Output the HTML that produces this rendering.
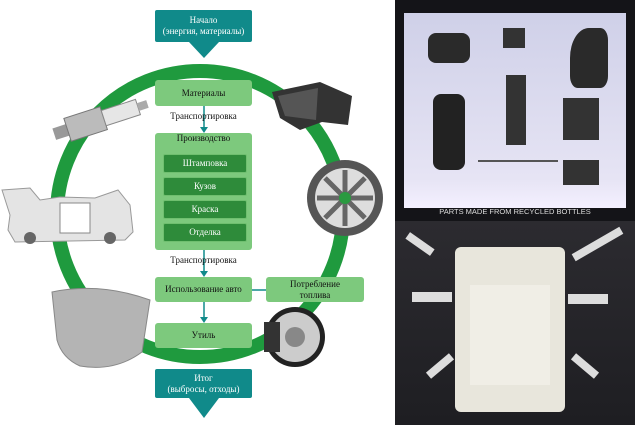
<!DOCTYPE html>
<html><head><meta charset="utf-8"><style>
body{margin:0;width:635px;height:425px;overflow:hidden;background:#fff;font-family:"Liberation Serif",serif;position:relative}
.a{position:absolute}
.b{position:absolute;background:#7dc97d;border-radius:3px;color:#111;font-size:9px;text-align:center;display:flex;align-items:center;justify-content:center;line-height:11px}
.d{position:absolute;background:#2e8b3a;border:1px solid #6fbf6f;border-radius:2px;color:#fff;font-size:9px;text-align:center;line-height:17px}
.t{position:absolute;background:#108a8a;color:#fff;font-size:9px;text-align:center;line-height:11px;border-radius:2px}
.l{position:absolute;font-size:9px;color:#111;text-align:center}
</style></head><body>
<svg class="a" style="left:0;top:0" width="395" height="425">
<circle cx="200" cy="214" r="143" fill="none" stroke="#1f9a3e" stroke-width="14"/>
<polygon points="189,42 219,42 204,58" fill="#108a8a"/>
<polygon points="189,398 219,398 204,418" fill="#108a8a"/>
<line x1="204" y1="106" x2="204" y2="130" stroke="#108a8a" stroke-width="1.5"/>
<polygon points="200,127 208,127 204,133" fill="#108a8a"/>
<line x1="204" y1="250" x2="204" y2="274" stroke="#108a8a" stroke-width="1.5"/>
<polygon points="200,271 208,271 204,277" fill="#108a8a"/>
<line x1="204" y1="302" x2="204" y2="320" stroke="#108a8a" stroke-width="1.5"/>
<polygon points="200,317 208,317 204,323" fill="#108a8a"/>
<line x1="252" y1="290" x2="266" y2="290" stroke="#108a8a" stroke-width="1.5"/>
<!-- spark plug -->
<g transform="rotate(-18 98 120)">
<rect x="52" y="114" width="14" height="12" fill="#999"/>
<rect x="66" y="108" width="38" height="24" fill="#bbb" stroke="#777"/>
<rect x="104" y="112" width="36" height="16" fill="#e6e6e6" stroke="#888"/>
<rect x="140" y="116" width="10" height="8" fill="#aaa"/>
</g>
<!-- car body -->
<path d="M2,190 L30,188 L40,200 L60,197 L95,198 L118,190 L130,205 L133,232 L125,240 L15,242 L8,230 L10,215Z" fill="#e4e4e4" stroke="#999"/>
<rect x="60" y="203" width="30" height="30" fill="#fff" stroke="#888"/>
<circle cx="30" cy="238" r="6" fill="#666"/><circle cx="110" cy="238" r="6" fill="#666"/>
<!-- hood -->
<path d="M52,292 Q100,282 150,300 L142,352 Q115,372 80,366 Q62,358 57,340Z" fill="#b4b4b4" stroke="#888"/>
<!-- mirror -->
<path d="M272,92 L320,82 L352,96 L348,125 L322,122 L300,130 L280,118Z" fill="#333"/>
<path d="M278,96 L318,88 L316,120 L285,116Z" fill="#555"/>
<!-- wheel -->
<circle cx="345" cy="198" r="38" fill="#555"/><circle cx="345" cy="198" r="30" fill="#ddd"/>
<g stroke="#666" stroke-width="5"><line x1="345" y1="170" x2="345" y2="226"/><line x1="317" y1="198" x2="373" y2="198"/><line x1="325" y1="178" x2="365" y2="218"/><line x1="365" y1="178" x2="325" y2="218"/></g>
<circle cx="345" cy="198" r="6" fill="#2a9a40"/>
<!-- brake -->
<circle cx="295" cy="337" r="30" fill="#222"/><circle cx="295" cy="337" r="25" fill="#ccc"/><circle cx="295" cy="337" r="10" fill="#888"/>
<rect x="264" y="322" width="16" height="30" fill="#333"/>
</svg>
<div class="t" style="left:155px;top:10px;width:97px;height:32px;padding-top:5px;box-sizing:border-box">Начало<br>(энергия, материалы)</div>
<div class="b" style="left:155px;top:80px;width:97px;height:26px">Материалы</div>
<div class="l" style="left:150px;top:111px;width:107px">Транспортировка</div>
<div class="b" style="left:155px;top:133px;width:97px;height:117px;align-items:flex-start">Производство</div>
<div class="d" style="left:163px;top:154px;width:82px;height:17px">Штамповка</div>
<div class="d" style="left:163px;top:177px;width:82px;height:17px">Кузов</div>
<div class="d" style="left:163px;top:200px;width:82px;height:17px">Краска</div>
<div class="d" style="left:163px;top:223px;width:82px;height:17px">Отделка</div>
<div class="l" style="left:150px;top:255px;width:107px">Транспортировка</div>
<div class="b" style="left:155px;top:277px;width:97px;height:25px">Использование авто</div>
<div class="b" style="left:266px;top:277px;width:98px;height:25px">Потребление<br>топлива</div>
<div class="b" style="left:155px;top:323px;width:97px;height:25px">Утиль</div>
<div class="t" style="left:155px;top:369px;width:97px;height:29px;padding-top:4px;box-sizing:border-box">Итог<br>(выбросы, отходы)</div>
<!-- right photos -->
<div class="a" style="left:395px;top:0;width:240px;height:221px;background:#141418"></div>
<div class="a" style="left:404px;top:13px;width:222px;height:195px;background:linear-gradient(#cfd0e8,#e6e4f4 85%,#f4f0ff);"></div>
<div class="a" style="left:428px;top:33px;width:42px;height:30px;background:#2a2a2a;border-radius:8px"></div>
<div class="a" style="left:503px;top:28px;width:22px;height:20px;background:#333"></div>
<div class="a" style="left:570px;top:28px;width:38px;height:60px;background:#2a2a2a;border-radius:50% 20% 20% 20%"></div>
<div class="a" style="left:433px;top:94px;width:32px;height:76px;background:#222;border-radius:8px"></div>
<div class="a" style="left:506px;top:75px;width:20px;height:70px;background:#333"></div>
<div class="a" style="left:563px;top:98px;width:36px;height:42px;background:#333"></div>
<div class="a" style="left:563px;top:160px;width:36px;height:25px;background:#333"></div>
<div class="a" style="left:478px;top:160px;width:80px;height:15px;border-top:2px solid #555"></div>
<div class="a" style="left:395px;top:207px;width:240px;text-align:center;color:#ddd;font-family:'Liberation Sans',sans-serif;font-size:7.5px">PARTS MADE FROM RECYCLED BOTTLES</div>
<div class="a" style="left:395px;top:221px;width:240px;height:204px;background:linear-gradient(#2c2b30,#1e1e22)"></div>
<div class="a" style="left:455px;top:247px;width:110px;height:165px;background:#e8e6dc;border-radius:6px"></div>
<div class="a" style="left:470px;top:285px;width:80px;height:100px;background:#f0eee6"></div>
<div class="a" style="left:405px;top:240px;width:30px;height:8px;background:#ddd;transform:rotate(35deg)"></div>
<div class="a" style="left:570px;top:240px;width:55px;height:8px;background:#ddd;transform:rotate(-30deg)"></div>
<div class="a" style="left:412px;top:292px;width:40px;height:10px;background:#ddd"></div>
<div class="a" style="left:568px;top:294px;width:40px;height:10px;background:#ddd"></div>
<div class="a" style="left:425px;top:362px;width:30px;height:8px;background:#ddd;transform:rotate(-40deg)"></div>
<div class="a" style="left:570px;top:362px;width:30px;height:8px;background:#ddd;transform:rotate(40deg)"></div>
</body></html>
